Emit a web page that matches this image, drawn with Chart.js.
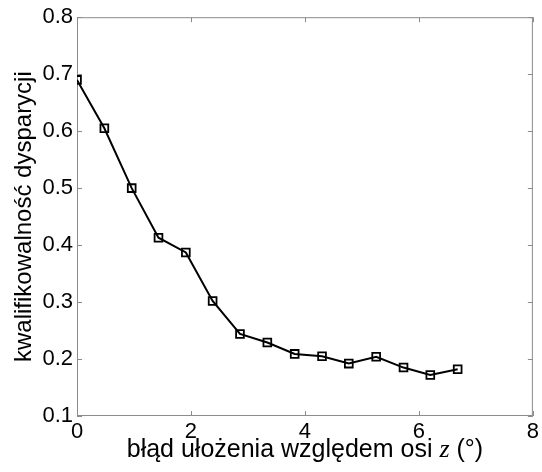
<!DOCTYPE html>
<html>
<head>
<meta charset="utf-8">
<script src="https://cdn.jsdelivr.net/npm/chart.js@4"></script>
<style>
  html, body { margin: 0; padding: 0; background: #fff; }
  #wrap { width: 542px; height: 472px; }
</style>
</head>
<body>
<div id="wrap"><canvas id="myChart" width="542" height="472"></canvas></div>
<script>
// dane
var bladUlozenia = [0, 0.48, 0.96, 1.43, 1.91, 2.38, 2.86, 3.34, 3.82, 4.3, 4.77, 5.25, 5.73, 6.2, 6.68];
var kwalifikowalnosc = [0.690, 0.605, 0.500, 0.413, 0.387, 0.302, 0.244, 0.229, 0.209, 0.205, 0.192, 0.204, 0.185, 0.172, 0.182];
var xTicks = [0, 2, 4, 6, 8];
var yTicks = [0.1, 0.2, 0.3, 0.4, 0.5, 0.6, 0.7, 0.8];
var xTytul = ['błąd ułożenia względem osi ', 'z', ' (°)'];

var points = bladUlozenia.map(function (x, i) { return { x: x, y: kwalifikowalnosc[i] }; });

// ramka wokół wykresu + krótkie znaczniki do środka (jak w Matlabie)
var frame = {
    id: 'frame',
    beforeDatasetsDraw: function (chart) {
        var c = chart.ctx, a = chart.chartArea;
        var xs = chart.scales.x, ys = chart.scales.y;
        c.save();
        c.strokeStyle = '#8c8c8c';
        c.lineWidth = 1;
        c.strokeRect(a.left + 0.5, a.top + 0.5, a.right - a.left - 1, a.bottom - a.top - 1);
        c.beginPath();
        xTicks.forEach(function (t) {
            var px = Math.round(xs.getPixelForValue(t)) + 0.5;
            c.moveTo(px, a.bottom); c.lineTo(px, a.bottom - 5);
            c.moveTo(px, a.top); c.lineTo(px, a.top + 5);
        });
        yTicks.forEach(function (t) {
            var py = Math.round(ys.getPixelForValue(t)) + 0.5;
            c.moveTo(a.left, py); c.lineTo(a.left + 5, py);
            c.moveTo(a.right, py); c.lineTo(a.right - 5, py);
        });
        c.stroke();
        c.restore();
    },
    // podpis osi x z kursywą dla "z"
    afterDraw: function (chart) {
        var c = chart.ctx, a = chart.chartArea;
        var f1 = '25px "Liberation Sans"', f2 = 'italic 26px "Liberation Serif"';
        c.save();
        c.fillStyle = '#000';
        c.textBaseline = 'alphabetic';
        c.font = f1; var w0 = c.measureText(xTytul[0]).width, w2 = c.measureText(xTytul[2]).width;
        c.font = f2; var w1 = c.measureText(xTytul[1]).width;
        var x = (a.left + a.right) / 2 - (w0 + w1 + w2) / 2, y = 457;
        c.textAlign = 'left';
        c.font = f1; c.fillText(xTytul[0], x, y);
        c.font = f2; c.fillText(xTytul[1], x + w0, y);
        c.font = f1; c.fillText(xTytul[2], x + w0 + w1, y);
        c.restore();
    }
};

var ctx = document.getElementById('myChart').getContext('2d');
var myChart = new Chart(ctx, {
    type: 'scatter',
    data: {
        datasets: [{
            data: points,
            showLine: true,
            borderColor: '#000',
            borderWidth: 2,
            pointStyle: 'rect',
            pointRadius: 5.5,
            pointBorderWidth: 1.8,
            pointBorderColor: '#000',
            pointBackgroundColor: 'rgba(0,0,0,0)',
            tension: 0
        }]
    },
    plugins: [frame],
    options: {
        responsive: false,
        animation: false,
        layout: { padding: { top: 16, right: 7, left: 0, bottom: 0 } },
        plugins: { legend: { display: false }, tooltip: { enabled: false } },
        scales: {
            x: {
                type: 'linear',
                min: 0, max: 8,
                afterBuildTicks: function (s) { s.ticks = xTicks.map(function (v) { return { value: v }; }); },
                afterFit: function (s) { s.height = 56; },
                grid: { display: false, drawTicks: false },
                border: { display: false },
                ticks: { color: '#000', font: { family: 'Liberation Sans', size: 22 }, padding: 3, maxRotation: 0 }
            },
            y: {
                min: 0.1, max: 0.8,
                afterBuildTicks: function (s) { s.ticks = yTicks.map(function (v) { return { value: v }; }); },
                afterFit: function (s) { s.width = 77; },
                grid: { display: false, drawTicks: false },
                border: { display: false },
                ticks: { color: '#000', font: { family: 'Liberation Sans', size: 22 }, padding: 4,
                         callback: function (v) { return v.toFixed(1); } },
                title: { display: true, text: 'kwalifikowalność dysparycji', color: '#000',
                         font: { family: 'Liberation Sans', size: 24 }, padding: { top: 10, bottom: 0 } }
            }
        }
    }
});
</script>
</body>
</html>
